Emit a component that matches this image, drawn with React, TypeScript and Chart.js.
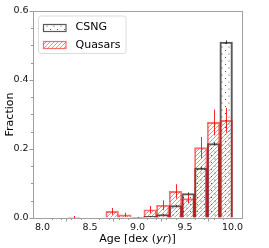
import React, { useEffect, useRef } from "react";
import { Chart, registerables } from "chart.js";

Chart.register(...registerables);

// Bin centres (dex yr), 15 bins from 8.0 to 10.0
const binCenters = [8.0667, 8.2, 8.3333, 8.4667, 8.6, 8.7333, 8.8667, 9.0, 9.1333, 9.2667, 9.4, 9.5333, 9.6667, 9.8, 9.9333];
const csngValues = [0, 0, 0, 0, 0, 0, 0, 0.002, 0.005, 0.010, 0.036, 0.071, 0.145, 0.216, 0.510];
const csngErrors = [0, 0, 0, 0, 0, 0, 0, 0.001, 0.001, 0.002, 0.002, 0.003, 0.004, 0.004, 0.005];
const quasarValues = [0, 0, 0.003, 0, 0, 0.019, 0.009, 0, 0.024, 0.037, 0.077, 0.056, 0.204, 0.277, 0.283];
const quasarErrors = [0, 0, 0.003, 0, 0, 0.010, 0.006, 0, 0.011, 0.014, 0.021, 0.013, 0.031, 0.037, 0.036];
const xTickLabels = ["8.0", "8.5", "9.0", "9.5", "10.0"];
const yTickLabels = ["0.0", "0.2", "0.4", "0.6"];

const FONT = "'DejaVu Sans', sans-serif";

function makeHatch(): CanvasPattern | string {
  const c = document.createElement("canvas");
  c.width = 4;
  c.height = 4;
  const g = c.getContext("2d");
  if (!g) return "transparent";
  g.strokeStyle = "rgba(255,0,0,0.5)";
  g.lineWidth = 0.9;
  g.beginPath();
  g.moveTo(-1, 5);
  g.lineTo(5, -1);
  g.moveTo(-1, 1);
  g.lineTo(1, -1);
  g.moveTo(3, 5);
  g.lineTo(5, 3);
  g.stroke();
  return g.createPattern(c, "repeat") || "transparent";
}

function makeDots(): CanvasPattern | string {
  const c = document.createElement("canvas");
  c.width = 7;
  c.height = 7;
  const g = c.getContext("2d");
  if (!g) return "transparent";
  g.fillStyle = "rgba(0,0,0,0.75)";
  g.beginPath();
  g.arc(1.5, 1.5, 0.6, 0, Math.PI * 2);
  g.arc(5, 5, 0.6, 0, Math.PI * 2);
  g.fill();
  return g.createPattern(c, "repeat") || "transparent";
}

export default function App() {
  const ref = useRef<HTMLCanvasElement | null>(null);

  useEffect(() => {
    const canvas = ref.current;
    if (!canvas) return;
    const hatch = makeHatch();
    const dots = makeDots();
    const csngEdge = "rgba(0,0,0,0.65)";
    const qsoEdge = "rgba(255,0,0,0.55)";

    const isMajorY = (v: number) => yTickLabels.some((l) => Math.abs(parseFloat(l) - v) < 1e-6);
    const isMajorX = (v: number) => xTickLabels.some((l) => Math.abs(parseFloat(l) - v) < 1e-6);

    const overlay = {
      id: "overlay",
      afterDatasetsDraw(chart: any) {
        const ctx = chart.ctx;
        const xs = chart.scales.x;
        const ys = chart.scales.y;
        ctx.save();
        ctx.lineWidth = 1;
        const drawErr = (vals: number[], errs: number[], color: string) => {
          ctx.strokeStyle = color;
          for (let i = 0; i < binCenters.length; i++) {
            if (!errs[i]) continue;
            const px = Math.round(xs.getPixelForValue(binCenters[i])) + 0.5;
            ctx.beginPath();
            ctx.moveTo(px, ys.getPixelForValue(vals[i] - errs[i]));
            ctx.lineTo(px, ys.getPixelForValue(vals[i] + errs[i]));
            ctx.stroke();
          }
        };
        drawErr(csngValues, csngErrors, "rgba(0,0,0,0.7)");
        drawErr(quasarValues, quasarErrors, "rgba(255,0,0,0.85)");
        ctx.restore();
      },
      afterDraw(chart: any) {
        const ctx = chart.ctx;
        const a = chart.chartArea;
        const xs = chart.scales.x;
        const ys = chart.scales.y;
        ctx.save();
        // minor ticks
        ctx.strokeStyle = "#999";
        ctx.lineWidth = 1;
        for (let k = 0; k <= 12; k++) {
          const v = k * 0.05;
          if (isMajorY(v)) continue;
          const py = Math.round(ys.getPixelForValue(v)) + 0.5;
          ctx.beginPath();
          ctx.moveTo(a.left - 2, py);
          ctx.lineTo(a.left, py);
          ctx.stroke();
        }
        for (let k = 0; k <= 20; k++) {
          const v = 8 + k * 0.1;
          if (isMajorX(parseFloat(v.toFixed(1)))) continue;
          const px = Math.round(xs.getPixelForValue(v)) + 0.5;
          ctx.beginPath();
          ctx.moveTo(px, a.bottom);
          ctx.lineTo(px, a.bottom + 2);
          ctx.stroke();
        }
        // spines
        ctx.strokeStyle = "#a0a0a0";
        ctx.strokeRect(a.left + 0.5, a.top + 0.5, a.right - a.left, a.bottom - a.top);

        // axis titles
        ctx.fillStyle = "#000";
        ctx.textBaseline = "alphabetic";
        const normal = `11px ${FONT}`;
        const italic = `italic 11px ${FONT}`;
        const parts: [string, string][] = [["Age [dex (", normal], ["yr", italic], [")]", normal]];
        let total = 0;
        for (const [t, f] of parts) {
          ctx.font = f;
          total += ctx.measureText(t).width;
        }
        let x = (a.left + a.right) / 2 - total / 2;
        for (const [t, f] of parts) {
          ctx.font = f;
          ctx.textAlign = "left";
          ctx.fillText(t, x, 241.5);
          x += ctx.measureText(t).width;
        }
        ctx.save();
        ctx.translate(12.5, (a.top + a.bottom) / 2);
        ctx.rotate(-Math.PI / 2);
        ctx.font = normal;
        ctx.textAlign = "center";
        ctx.fillText("Fraction", 0, 0);
        ctx.restore();

        // legend
        const lx = 38.5, ly = 16, lw = 87.5, lh = 37.5, r = 2.5;
        ctx.beginPath();
        ctx.moveTo(lx + r, ly);
        ctx.arcTo(lx + lw, ly, lx + lw, ly + lh, r);
        ctx.arcTo(lx + lw, ly + lh, lx, ly + lh, r);
        ctx.arcTo(lx, ly + lh, lx, ly, r);
        ctx.arcTo(lx, ly, lx + lw, ly, r);
        ctx.closePath();
        ctx.fillStyle = "rgba(255,255,255,0.8)";
        ctx.fill();
        ctx.strokeStyle = "#dcdcdc";
        ctx.lineWidth = 1;
        ctx.stroke();

        const entries: [string, any, string, number][] = [
          ["CSNG", dots, csngEdge, 27],
          ["Quasars", hatch, qsoEdge, 44.3],
        ];
        for (const [label, pat, edge, cy] of entries) {
          const sx = 43.5, sw = 22.5, sh = 7;
          const sy = Math.round(cy - sh / 2) + 0.5;
          ctx.fillStyle = pat;
          ctx.fillRect(sx, sy, sw, sh);
          ctx.strokeStyle = edge;
          ctx.lineWidth = 1.2;
          ctx.strokeRect(sx, sy, sw, sh);
          ctx.fillStyle = "#000";
          ctx.font = normal;
          ctx.textAlign = "left";
          ctx.textBaseline = "middle";
          ctx.fillText(label, 75.5, cy + 0.5);
        }
        ctx.restore();
      },
    };

    const chart = new Chart(canvas, {
      type: "bar",
      data: {
        datasets: [
          {
            label: "Quasars",
            data: binCenters.map((x, i) => ({ x, y: quasarValues[i] })),
            backgroundColor: hatch as any,
            borderColor: qsoEdge,
            borderWidth: 1.2,
            borderSkipped: "start",
            barPercentage: 1,
            categoryPercentage: 1,
            grouped: false,
            order: 0,
          } as any,
          {
            label: "CSNG",
            data: binCenters.map((x, i) => ({ x, y: csngValues[i] })),
            backgroundColor: dots as any,
            borderColor: csngEdge,
            borderWidth: 1.4,
            borderSkipped: "start",
            barPercentage: 1,
            categoryPercentage: 1,
            grouped: false,
            order: 1,
          } as any,
        ],
      },
      options: {
        animation: false,
        responsive: false,
        events: [],
        layout: { padding: { left: 0, top: 11, right: 27, bottom: 0 } },
        plugins: {
          legend: { display: false },
          tooltip: { enabled: false },
        },
        scales: {
          x: {
            type: "linear",
            min: 7.9,
            max: 10.1,
            offset: false,
            afterFit: (s: any) => {
              s.height = 30;
            },
            border: { display: false },
            grid: { drawOnChartArea: false, drawTicks: true, tickLength: 3.5, tickColor: "#999" },
            ticks: {
              stepSize: 0.5,
              includeBounds: false,
              padding: 0,
              color: "#111",
              font: { family: FONT, size: 9.5 },
              maxRotation: 0,
              autoSkip: false,
              callback: (v: any) => {
                const l = xTickLabels.find((t) => Math.abs(parseFloat(t) - v) < 1e-6);
                return l ?? "";
              },
            },
          },
          y: {
            type: "linear",
            min: 0,
            max: 0.6,
            afterFit: (s: any) => {
              s.width = 33;
            },
            border: { display: false },
            grid: {
              drawOnChartArea: false,
              drawTicks: true,
              tickLength: 3.5,
              tickColor: (c: any) => (isMajorY(c.tick?.value ?? -1) ? "#999" : "rgba(0,0,0,0)"),
            },
            ticks: {
              stepSize: 0.2,
              padding: 1,
              color: "#111",
              font: { family: FONT, size: 9.5 },
              autoSkip: false,
              callback: (v: any) => {
                const l = yTickLabels.find((t) => Math.abs(parseFloat(t) - v) < 1e-6);
                return l ?? "";
              },
            },
          },
        },
      } as any,
      plugins: [overlay],
    });
    return () => chart.destroy();
  }, []);

  return (
    <div style={{ position: "fixed", left: 0, top: 0, width: 269, height: 248, background: "#fff" }}>
      <canvas ref={ref} width={269} height={248} style={{ display: "block" }} />
    </div>
  );
}
